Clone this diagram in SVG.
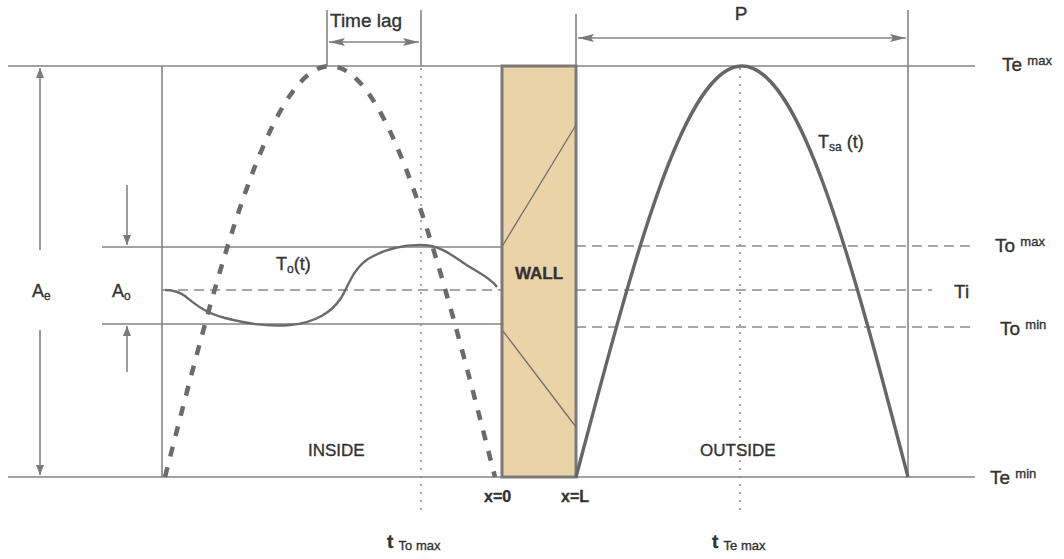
<svg xmlns="http://www.w3.org/2000/svg" width="1064" height="559" viewBox="0 0 1064 559">
<defs>
<marker id="ah" viewBox="0 0 10 10" refX="10" refY="5" markerWidth="10" markerHeight="10" markerUnits="userSpaceOnUse" orient="auto-start-reverse">
<path d="M0,1 L10,5 L0,9 Z" fill="#7a7a7a"/>
</marker>
<marker id="ahb" viewBox="0 0 16 10" refX="16" refY="5" markerWidth="16" markerHeight="10" markerUnits="userSpaceOnUse" orient="auto-start-reverse">
<path d="M0,1 L16,5 L0,9 L3,5 Z" fill="#7a7a7a"/>
</marker>
<style>
.ln{stroke:#858585;stroke-width:1.6;fill:none}
.dash{stroke:#8a8a8a;stroke-width:1.6;fill:none;stroke-dasharray:10 6}
.dot{stroke:#8a8a8a;stroke-width:1.5;fill:none;stroke-dasharray:2 6}
.curve{stroke:#666;stroke-width:3.4;fill:none}
.txt{font-family:"Liberation Sans",Arial,sans-serif;fill:#333;stroke:#333;stroke-width:0.35}
</style>
</defs>
<rect width="1064" height="559" fill="#fff"/>
<g id="connectors">
<line class="ln" x1="8" y1="66" x2="975" y2="66"/>
<line class="ln" x1="8" y1="477" x2="975" y2="477"/>
<line class="ln" x1="162" y1="66" x2="162" y2="477"/>
<line class="ln" x1="908" y1="10" x2="908" y2="477"/>
<line class="ln" x1="576" y1="14" x2="576" y2="66"/>
<line class="ln" x1="327" y1="10" x2="327" y2="66"/>
<line class="ln" x1="421" y1="10" x2="421" y2="66"/>
<line class="ln" x1="329" y1="42" x2="419" y2="42" marker-start="url(#ahb)" marker-end="url(#ahb)"/>
<line class="ln" x1="578" y1="38" x2="906" y2="38" marker-start="url(#ahb)" marker-end="url(#ahb)"/>
<line class="dot" x1="421" y1="68" x2="421" y2="512"/>
<line class="dot" x1="740" y1="68" x2="740" y2="512"/>
<line class="ln" x1="40" y1="250" x2="40" y2="68" marker-end="url(#ah)"/>
<line class="ln" x1="40" y1="330" x2="40" y2="475" marker-end="url(#ah)"/>
<line class="ln" x1="102" y1="247" x2="502" y2="247"/>
<line class="ln" x1="102" y1="324" x2="502" y2="324"/>
<line class="ln" x1="127" y1="185" x2="127" y2="245" marker-end="url(#ah)"/>
<line class="ln" x1="127" y1="372" x2="127" y2="326" marker-end="url(#ah)"/>
<line class="dash" x1="162" y1="290" x2="502" y2="290"/>
<line class="dash" x1="576" y1="246" x2="975" y2="246"/>
<line class="dash" x1="576" y1="290" x2="932" y2="290"/>
<line class="dash" x1="576" y1="327" x2="975" y2="327"/>
</g>
<g id="wall">
<rect x="502" y="66" width="74" height="411" fill="#ead3a6" stroke="#7a7a7a" stroke-width="3"/>
<line x1="576" y1="125" x2="503" y2="245" stroke="#6f6f6f" stroke-width="1.3"/>
<line x1="503" y1="331" x2="576" y2="427" stroke="#6f6f6f" stroke-width="1.3"/>
<text class="txt" x="539" y="279" font-size="17" font-weight="bold" text-anchor="middle">WALL</text>
</g>
<g id="curves">
<path d="M165,477 C218.8,266.4 270.3,66 330,66 C389.7,66 441.2,266.4 495,477" fill="none" stroke="#6b6b6b" stroke-width="4.5" stroke-dasharray="10 11"/>
<path class="curve" d="M576,477 C632,266.4 683,66 742,66 C801,66 853,266.4 908,477"/>
<path d="M165,290 C172,290 178,291 185,296 C195,304 205,313 225,318 C245,323 265,327 290,325 C315,323 332,312 341,298 C348,287 352,270 368,259 C383,250 400,245 420,245 C440,245 450,254 462,262 C475,271 490,277 497,287" fill="none" stroke="#6b6b6b" stroke-width="2.4"/>
</g>
<g id="labels">
<text class="txt" x="330" y="27" font-size="19">Time lag</text>
<text class="txt" x="741" y="20" font-size="19" text-anchor="middle">P</text>
<text class="txt" x="1002" y="71" font-size="19">Te <tspan font-size="13" dy="-6">max</tspan></text>
<text class="txt" x="995" y="252" font-size="19">To <tspan font-size="13" dy="-6">max</tspan></text>
<text class="txt" x="954" y="298" font-size="19">Ti</text>
<text class="txt" x="1000" y="335" font-size="19">To <tspan font-size="13" dy="-6">min</tspan></text>
<text class="txt" x="990" y="484" font-size="19">Te <tspan font-size="13" dy="-6">min</tspan></text>
<text class="txt" x="32" y="297" font-size="18">A<tspan font-size="12" dy="3">e</tspan></text>
<text class="txt" x="112" y="297" font-size="18">A<tspan font-size="12" dy="3">o</tspan></text>
<text class="txt" x="276" y="270" font-size="18">T<tspan font-size="12" dy="3">o</tspan><tspan dy="-3">(t)</tspan></text>
<text class="txt" x="818" y="148" font-size="18">T<tspan font-size="12" dy="3">sa</tspan><tspan dy="-3"> (t)</tspan></text>
<text class="txt" x="308" y="456" font-size="17">INSIDE</text>
<text class="txt" x="700" y="456" font-size="17">OUTSIDE</text>
<text class="txt" x="484" y="502" font-size="16" font-weight="bold">x=0</text>
<text class="txt" x="561" y="502" font-size="16" font-weight="bold">x=L</text>
<text class="txt" x="387" y="548" font-size="19" font-weight="bold">t <tspan font-size="13" font-weight="normal" dy="2">To max</tspan></text>
<text class="txt" x="712" y="548" font-size="19" font-weight="bold">t <tspan font-size="13" font-weight="normal" dy="2">Te max</tspan></text>
</g>
</svg>
